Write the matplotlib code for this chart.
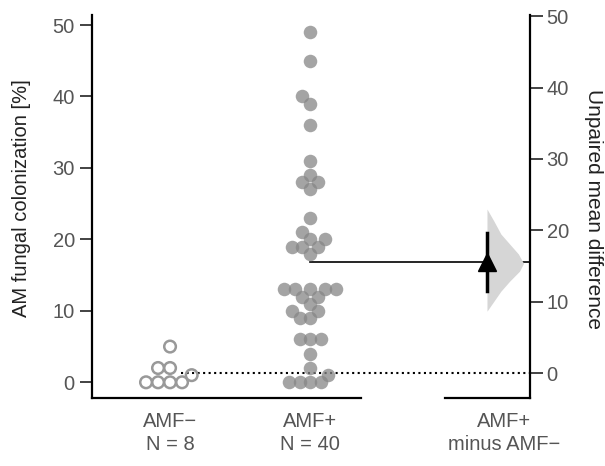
import numpy as np
import matplotlib
matplotlib.use('Agg')
import matplotlib.pyplot as plt

plt.rcParams['font.family'] = ['Liberation Sans', 'DejaVu Sans']

# datos
amf_neg = [0, 0, 5, 2, 1, 2, 0, 0]
amf_pos = [49, 45, 40, 39, 36, 31, 29, 28, 28, 27,
           23, 21, 20, 20, 19, 19, 19, 18,
           12, 13, 13, 13, 13, 13, 12, 11, 10, 10,
           9, 9, 6, 6, 6, 4, 2, 1, 0, 0, 0, 0]
grupos = ['AMF\u2212\nN = 8', 'AMF+\nN = 40']
etiqueta_contraste = 'AMF+\nminus AMF\u2212'
ci_bajo, ci_alto = 11.5, 19.7
# perfil de la distribucion bootstrap (diferencia, densidad relativa)
boot_diff = [8.7, 10.1, 11.5, 12.9, 14.3, 15.4, 16.7, 18.1, 19.5, 21.3, 23.0]
boot_dens = [0.0, 0.19, 0.38, 0.62, 0.89, 1.0, 0.86, 0.62, 0.38, 0.19, 0.0]

media_neg = np.mean(amf_neg)
media_pos = np.mean(amf_pos)
dif = media_pos - media_neg

W, H = 605, 466
fig = plt.figure(figsize=(W / 100, H / 100), dpi=100)
ax = fig.add_axes([91.5 / W, 1 - 398.3 / H, (361 - 91.5) / W, (398.3 - 15) / H])
cax = fig.add_axes([445 / W, 1 - 398.3 / H, (530 - 445) / W, (398.3 - 15) / H])

gris = '#555555'
ylim = (-2.24, 51.4)
ax.set_xlim(-0.561, 1.364)
ax.set_ylim(*ylim)
cax.set_xlim(0, 1)
cax.set_ylim(ylim[0] - media_neg, ylim[1] - media_neg)


def swarm(valores, d):
    # beeswarm sencillo en pixeles
    ys = ax.transData.transform(np.column_stack([np.zeros(len(valores)), valores]))[:, 1]
    xs = np.zeros(len(valores))
    puestos = []
    for i in np.argsort(ys, kind='stable'):
        y = ys[i]
        cands = [0.0]
        for px, py in puestos:
            dy = abs(y - py)
            if dy < d:
                dx = np.sqrt(d * d - dy * dy)
                cands += [px - dx, px + dx]
        cands.sort(key=abs)
        for c in cands:
            if all((c - px) ** 2 + (y - py) ** 2 >= d * d - 1e-6 for px, py in puestos):
                xs[i] = c
                break
        puestos.append((xs[i], y))
    escala = ax.transData.transform((1, 0))[0] - ax.transData.transform((0, 0))[0]
    return xs / escala


x_neg = 0 + swarm(amf_neg, 12.0)
x_pos = 1 + swarm(amf_pos, 10.5)

ax.scatter(x_neg, amf_neg, s=70, facecolors='none', edgecolors='#999999',
           linewidths=1.8, zorder=3, clip_on=False)
ax.scatter(x_pos, amf_pos, s=95, color='#868686', alpha=0.75,
           linewidths=0, zorder=3, clip_on=False)

# lineas de medias hasta el eje de contraste
x_fin = ax.transData.inverted().transform(fig.transFigure.transform((530 / W, 0)))[0]
ax.plot([0.08, x_fin], [media_neg, media_neg], color='black', lw=1.5,
        ls=':', clip_on=False, zorder=2)
ax.plot([1.0, x_fin], [media_pos, media_pos], color='black', lw=1.2,
        clip_on=False, zorder=2)

# distribucion bootstrap
x0 = 0.494
ancho = 0.43
cax.fill_betweenx(boot_diff, x0, x0 + ancho * np.array(boot_dens),
                  color='#d6d6d6', lw=0, zorder=1)
cax.plot([x0, x0], [ci_bajo, ci_alto], color='black', lw=2.5, zorder=3)
cax.plot([x0], [dif], marker='^', ms=13, color='black', zorder=4)

for a in (ax, cax):
    for s in a.spines.values():
        s.set_linewidth(1.6)
    a.tick_params(axis='y', length=9, width=1.2, color='#222222',
                  labelcolor=gris, labelsize=14.5, pad=3)
    a.tick_params(axis='x', length=0, labelcolor=gris, labelsize=14.5, pad=10)
    a.set_yticks([0, 10, 20, 30, 40, 50])
    a.patch.set_alpha(0)

ax.spines['top'].set_visible(False)
ax.spines['right'].set_visible(False)
ax.set_xticks([0, 1])
ax.set_xticklabels(grupos, linespacing=1.25)

cax.spines['top'].set_visible(False)
cax.spines['left'].set_visible(False)
cax.yaxis.tick_right()
cax.set_xticks([0.7])
cax.set_xticklabels([etiqueta_contraste], linespacing=1.25)

fig.text(22 / W, 1 - 198 / H, 'AM fungal colonization [%]', rotation=90,
         ha='center', va='center', fontsize=14.5, color='#222222')
fig.text(593 / W, 1 - 209 / H, 'Unpaired mean difference', rotation=270,
         ha='center', va='center', fontsize=15, color='#222222')

fig.savefig('out.png', dpi=100)
